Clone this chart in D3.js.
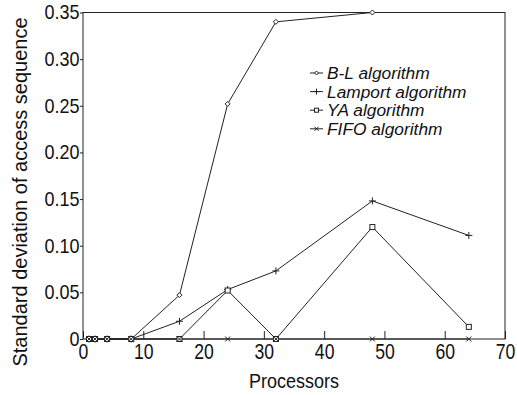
<!DOCTYPE html>
<html>
<head>
<meta charset="utf-8">
<script src="https://cdn.jsdelivr.net/npm/d3@7"></script>
<style>
body { margin: 0; background: #fff; }
text { font-family: "Liberation Sans", Arial, sans-serif; fill: #111; }
</style>
</head>
<body>
<script>
var w = 517;
var h = 395;

//Data
var procs = [1, 2, 4, 8, 16, 24, 32, 48, 64];
var blValues = [0, 0, 0, 0, 0.047, 0.252, 0.340, 0.350];
var lamportValues = [0, 0, 0, 0, 0.019, 0.053, 0.073, 0.148, 0.111];
var yaValues = [0, 0, 0, 0, 0, 0.052, 0, 0.120, 0.013];
var fifoValues = [0, 0, 0, 0, 0, 0, 0, 0, 0];
var seriesNames = ["B-L algorithm", "Lamport algorithm", "YA algorithm", "FIFO algorithm"];
var markers = ["diamond", "plus", "square", "cross"];
var xTicks = [0, 10, 20, 30, 40, 50, 60, 70];
var yTicks = [0, 0.05, 0.10, 0.15, 0.20, 0.25, 0.30, 0.35];

var series = [blValues, lamportValues, yaValues, fifoValues].map(function(vals, i) {
	return {
		name: seriesNames[i],
		marker: markers[i],
		points: vals.map(function(v, j) { return { x: procs[j], y: v }; })
	};
});

var plotLeft = 83, plotRight = 505, plotTop = 12.5, plotBottom = 339;
var legendStep = 18.6;

var x = d3.scaleLinear().domain([0, 70]).range([plotLeft, plotRight]);
var y = d3.scaleLinear().domain([0, 0.35]).range([plotBottom, plotTop]);

var svg = d3.select("body")
	.append("svg")
	.attr("width", w)
	.attr("height", h);

//Frame
svg.append("rect")
	.attr("x", plotLeft)
	.attr("y", plotTop)
	.attr("width", plotRight - plotLeft)
	.attr("height", plotBottom - plotTop)
	.attr("fill", "none")
	.attr("stroke", "#222")
	.attr("stroke-width", 1);

//X axis, ticks inward
var xAxis = svg.append("g")
	.attr("transform", "translate(0," + plotBottom + ")")
	.call(d3.axisBottom(x).tickValues(xTicks).tickSize(-8).tickPadding(14).tickFormat(d3.format("d")));
xAxis.select(".domain").remove();
xAxis.selectAll("line").attr("stroke", "#222");
xAxis.selectAll("text")
	.attr("font-size", 22)
	.attr("font-family", null)
	.attr("fill", "#111")
	.attr("y", 4)
	.attr("dy", "0.71em")
	.attr("transform", "scale(0.8,1)");

//Y axis, short ticks outward
var yAxis = svg.append("g")
	.attr("transform", "translate(" + plotLeft + ",0)")
	.call(d3.axisLeft(y).tickValues(yTicks).tickSize(3).tickPadding(1)
		.tickFormat(function(d) { return d === 0 ? "0" : d3.format(".2f")(d); }));
yAxis.select(".domain").remove();
yAxis.selectAll("line").attr("stroke", "#222");
yAxis.selectAll("text")
	.attr("font-size", 20)
	.attr("font-family", null)
	.attr("fill", "#111")
	.attr("transform", "scale(0.9,1)");

//Axis titles
svg.append("text")
	.attr("transform", "translate(294,388) scale(0.9,1)")
	.attr("text-anchor", "middle")
	.attr("font-size", 20)
	.text("Processors");

svg.append("text")
	.attr("transform", "translate(27,192) rotate(-90)")
	.attr("text-anchor", "middle")
	.attr("font-size", 20)
	.text("Standard deviation of access sequence");

//Marker drawing
function drawMarker(g, type, s) {
	if (type === "diamond") {
		g.append("path").attr("d", "M0," + (-s) + "L" + s + ",0L0," + s + "L" + (-s) + ",0Z")
			.attr("fill", "#fff").attr("stroke", "#222");
	} else if (type === "plus") {
		g.append("path").attr("d", "M" + (-s - 1) + ",0H" + (s + 1) + "M0," + (-s - 1) + "V" + (s + 1))
			.attr("stroke", "#222");
	} else if (type === "square") {
		g.append("rect").attr("x", -s).attr("y", -s).attr("width", 2 * s).attr("height", 2 * s)
			.attr("fill", "#fff").attr("stroke", "#222");
	} else if (type === "cross") {
		g.append("path").attr("d", "M" + (-s) + "," + (-s) + "L" + s + "," + s + "M" + (-s) + "," + s + "L" + s + "," + (-s))
			.attr("stroke", "#222");
	}
}

var line = d3.line()
	.x(function(d) { return x(d.x); })
	.y(function(d) { return y(d.y); });

//Lines
svg.selectAll(".series")
	.data(series)
	.enter()
	.append("path")
	.attr("class", "series")
	.attr("d", function(d) { return line(d.points); })
	.attr("fill", "none")
	.attr("stroke", "#222")
	.attr("stroke-width", 1);

//Markers
series.forEach(function(s) {
	s.points.forEach(function(p) {
		var g = svg.append("g").attr("transform", "translate(" + x(p.x) + "," + y(p.y) + ")");
		drawMarker(g, s.marker, 2.5);
	});
});

//Legend
var legend = svg.append("g").attr("transform", "translate(310,73)");
series.forEach(function(s, i) {
	var row = legend.append("g").attr("transform", "translate(0," + (i * legendStep) + ")");
	row.append("line").attr("x1", 0).attr("x2", 13).attr("y1", 0).attr("y2", 0).attr("stroke", "#222");
	var m = row.append("g").attr("transform", "translate(6.5,0)");
	drawMarker(m, s.marker, 2);
	row.append("text")
		.attr("transform", "translate(17,6) scale(1.05,1)")
		.attr("font-size", 16.5)
		.attr("font-style", "italic")
		.text(s.name);
});
</script>
</body>
</html>
